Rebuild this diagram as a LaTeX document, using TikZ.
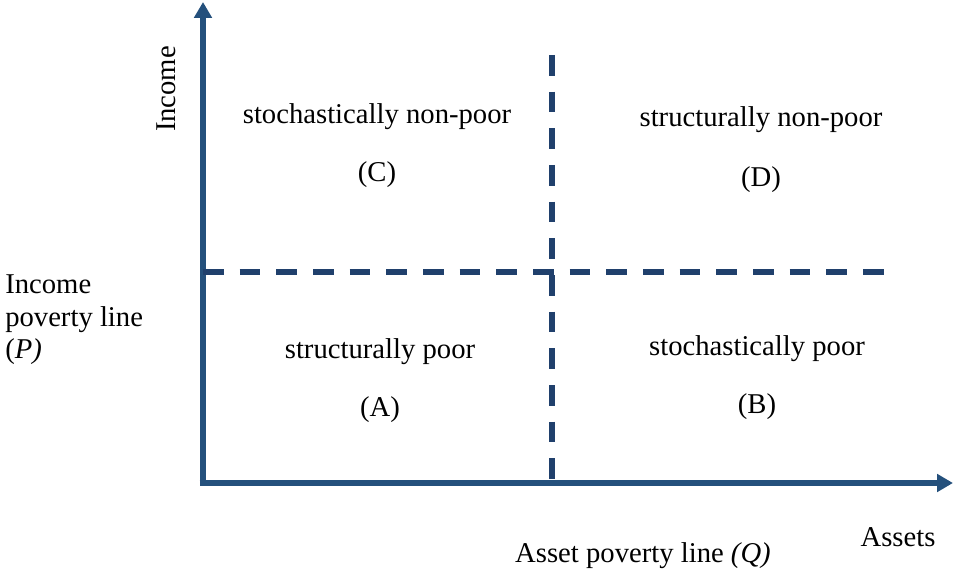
\documentclass[tikz,border=0pt]{standalone}
\usepackage{fontspec}
\setmainfont{Liberation Serif}
\usetikzlibrary{arrows.meta}

\definecolor{axisblue}{RGB}{36,80,124}
\definecolor{dashblue}{RGB}{32,64,108}

\tikzset{
  axis/.style={line width=3.8pt, color=axisblue, -{Triangle[length=12pt,width=13pt]}},
  povline/.style={line width=3.8pt, color=dashblue, dash pattern=on 15.5pt off 12pt},
  quadtext/.style={font=\fontsize{21.5}{26}\selectfont, inner sep=0pt}
}

\begin{document}
\begin{tikzpicture}[x=0.75pt, y=-0.75pt]
  \useasboundingbox (0,0) rectangle (953,574);

  % Axes
  \coordinate (origin) at (203,483);
  \coordinate (ytip) at (203,2);
  \coordinate (xtip) at (953,483);
  \draw[axis] (origin) -- (ytip);
  \draw[axis] ([xshift=-2.5pt]origin) -- (xtip);

  % Poverty lines
  \coordinate (p0) at (203,272);
  \coordinate (p1) at (890,272);
  \coordinate (q0) at (552,55);
  \coordinate (q1) at (552,490);
  \draw[povline] (p0) -- (p1);
  \draw[povline] (q0) -- (q1);

  % Quadrant labels
  \node[quadtext] (cname) at (377,117) {stochastically non-poor};
  \node[quadtext] (cletter) at (377,175) {(C)};
  \node[quadtext] (dname) at (761,120) {structurally non-poor};
  \node[quadtext] (dletter) at (761,180) {(D)};
  \node[quadtext] (aname) at (380,352) {structurally poor};
  \node[quadtext] (aletter) at (380,410) {(A)};
  \node[quadtext] (bname) at (757,349) {stochastically poor};
  \node[quadtext] (bletter) at (757,407) {(B)};

  % Axis labels
  \node[quadtext, rotate=90] (ylabel) at (166,89) {Income};
  \node[quadtext] (xlabel) at (898,537) {Assets};
  \node[quadtext] (qlabel) at (643,556) {Asset poverty line \textit{(Q)}};
  \node[quadtext, anchor=west, align=left, font=\fontsize{21.5}{24.4}\selectfont]
    (plabel) at (5,320) {Income\\poverty line\\(\textit{P)}};
\end{tikzpicture}
\end{document}
